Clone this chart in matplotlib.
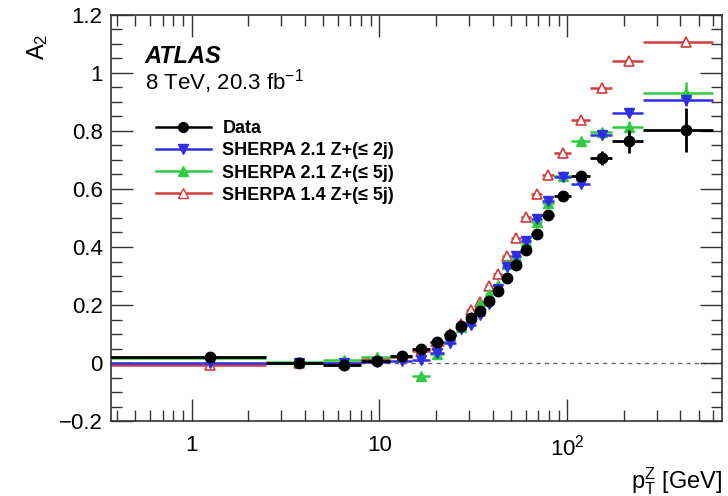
import numpy as np
import matplotlib
matplotlib.use("Agg")
import matplotlib.pyplot as plt
from matplotlib.ticker import FixedLocator, MultipleLocator, LogLocator, NullFormatter, FuncFormatter
from matplotlib.lines import Line2D

plt.rcParams['font.family'] = ['Liberation Sans', 'DejaVu Sans']
plt.rcParams['mathtext.fontset'] = 'custom'
plt.rcParams['mathtext.rm'] = 'Liberation Sans'
plt.rcParams['mathtext.it'] = 'Liberation Sans:italic'

# pT^Z bin edges [GeV]
bin_edges = [0, 2.5, 5.0, 8.0, 11.4, 14.9, 18.5, 22.0, 25.5, 29.0, 32.6, 36.4,
             40.4, 44.9, 50.2, 56.4, 63.9, 73.4, 85.4, 105.0, 132.0, 173.0, 253.0, 600.0]

data_vals = [0.022, -0.001, -0.006, 0.007, 0.023, 0.048, 0.071, 0.098, 0.127, 0.155,
             0.180, 0.213, 0.250, 0.292, 0.338, 0.388, 0.446, 0.509, 0.577, 0.646,
             0.708, 0.764, 0.803]
data_err = [0.004, 0.004, 0.004, 0.004, 0.004, 0.005, 0.005, 0.005, 0.005, 0.005,
            0.005, 0.005, 0.006, 0.006, 0.007, 0.008, 0.009, 0.010, 0.012, 0.016,
            0.024, 0.040, 0.075]

sh21_2j = [0.001, 0.000, 0.000, 0.005, 0.006, 0.012, 0.035, 0.068, 0.118, 0.131,
           0.166, 0.205, 0.255, 0.330, 0.370, 0.422, 0.497, 0.557, 0.640, 0.617,
           0.786, 0.861, 0.905]
sh21_2j_err = [0.002] * 19 + [0.005, 0.008, 0.012, 0.02]

sh21_5j = [0.016, 0.002, 0.010, 0.022, 0.025, -0.045, 0.030, 0.092, 0.125, 0.158,
           0.203, 0.238, 0.269, 0.341, 0.370, 0.420, 0.487, 0.551, 0.646, 0.767,
           0.795, 0.815, 0.930]
sh21_5j_err = [0.003] * 19 + [0.006, 0.01, 0.02, 0.04]

sh14_5j = [-0.007, 0.000, 0.000, 0.015, 0.020, 0.040, 0.062, 0.100, 0.135, 0.183,
           0.212, 0.267, 0.307, 0.370, 0.430, 0.503, 0.583, 0.648, 0.724, 0.839,
           0.948, 1.040, 1.106]
sh14_5j_err = [0.002] * 19 + [0.004, 0.006, 0.008, 0.01]

labels = ["Data", "SHERPA 2.1 Z+(\u2264 2j)", "SHERPA 2.1 Z+(\u2264 5j)", "SHERPA 1.4 Z+(\u2264 5j)"]

fig = plt.figure(figsize=(7.28, 4.96), dpi=100)
ax = fig.add_axes([0.1525, 0.151, 0.8393, 0.819])

xmin, xmax = 0.372, 667
edges = np.array(bin_edges)
lo = np.maximum(edges[:-1], xmin * 0.5)
hi = edges[1:]
centers = 0.5 * (edges[:-1] + edges[1:])
xerr = np.vstack([centers - lo, hi - centers])

c_blue = '#2e2ee6'
c_green = '#2ecc40'
c_red = '#d23c3c'

ax.axhline(0, color='#666666', ls=(0, (3, 3)), lw=1.0, zorder=1)

ax.errorbar(centers, sh14_5j, xerr=xerr, yerr=sh14_5j_err, fmt='^', color=c_red,
            mfc='white', mec=c_red, ms=7.5, mew=1.2, elinewidth=1.8, capsize=0, zorder=2)
ax.errorbar(centers, sh21_5j, xerr=xerr, yerr=sh21_5j_err, fmt='^', color=c_green,
            mfc=c_green, mec=c_green, ms=7.5, elinewidth=1.8, capsize=0, zorder=3)
ax.errorbar(centers, sh21_2j, xerr=xerr, yerr=sh21_2j_err, fmt='v', color=c_blue,
            mfc=c_blue, mec=c_blue, ms=7.5, elinewidth=1.8, capsize=0, zorder=4)
ax.errorbar(centers, data_vals, xerr=xerr, yerr=data_err, fmt='o', color='black',
            ms=7.5, elinewidth=2.0, capsize=0, zorder=5)

ax.set_xscale('log')
ax.set_xlim(xmin, xmax)
ax.set_ylim(-0.2, 1.2)

ax.yaxis.set_major_locator(MultipleLocator(0.2))
ax.yaxis.set_minor_locator(MultipleLocator(0.05))

def yfmt(v, pos):
    if abs(v) < 1e-9:
        return "0"
    if abs(v - 1) < 1e-9:
        return "1"
    s = f"{v:.1f}"
    return s.replace("-", "\u2212")
ax.yaxis.set_major_formatter(FuncFormatter(yfmt))

ax.xaxis.set_major_locator(FixedLocator([1, 10, 100]))
ax.xaxis.set_minor_locator(LogLocator(base=10, subs=np.arange(2, 10), numticks=20))
ax.xaxis.set_minor_formatter(NullFormatter())
ax.xaxis.set_major_formatter(FuncFormatter(lambda v, p: {1: "1", 10: "10", 100: r"$10^{2}$"}.get(int(round(v)), "")))

ax.tick_params(which='both', direction='in', top=True, right=True, labelsize=16, width=1.0, color='#333333')
ax.tick_params(which='major', length=16, pad=6)
ax.tick_params(which='minor', length=8)
ax.tick_params(axis='x', which='major', pad=10)
for sp in ax.spines.values():
    sp.set_linewidth(1.2)
    sp.set_color('#333333')

fig.text(0.052, 0.905, r"A$_2$", rotation=90, fontsize=17, ha='center', va='center')
fig.text(0.992, 0.03, r"p$_\mathregular{T}^\mathregular{Z}$ [GeV]", fontsize=17, ha='right', va='center')

ax.text(0.055, 0.897, "ATLAS", transform=ax.transAxes, fontsize=17, fontweight='bold',
        fontstyle='italic', ha='left', va='center')
ax.text(0.055, 0.835, r"8 TeV, 20.3 fb$^{\mathregular{-1}}$", transform=ax.transAxes, fontsize=16,
        ha='left', va='center')

handles = [
    Line2D([], [], color='black', marker='o', ms=7, lw=1.8),
    Line2D([], [], color=c_blue, marker='v', ms=7, lw=1.8),
    Line2D([], [], color=c_green, marker='^', ms=7, lw=1.8),
    Line2D([], [], color=c_red, marker='^', ms=7, mfc='white', mec=c_red, lw=1.8),
]
leg = ax.legend(handles, labels, loc='upper left', bbox_to_anchor=(0.061, 0.758), frameon=False,
                prop={'weight': 'bold', 'size': 13}, handlelength=3.1, handletextpad=0.6,
                labelspacing=0.28, borderaxespad=0)

fig.savefig("out.png", dpi=100)
